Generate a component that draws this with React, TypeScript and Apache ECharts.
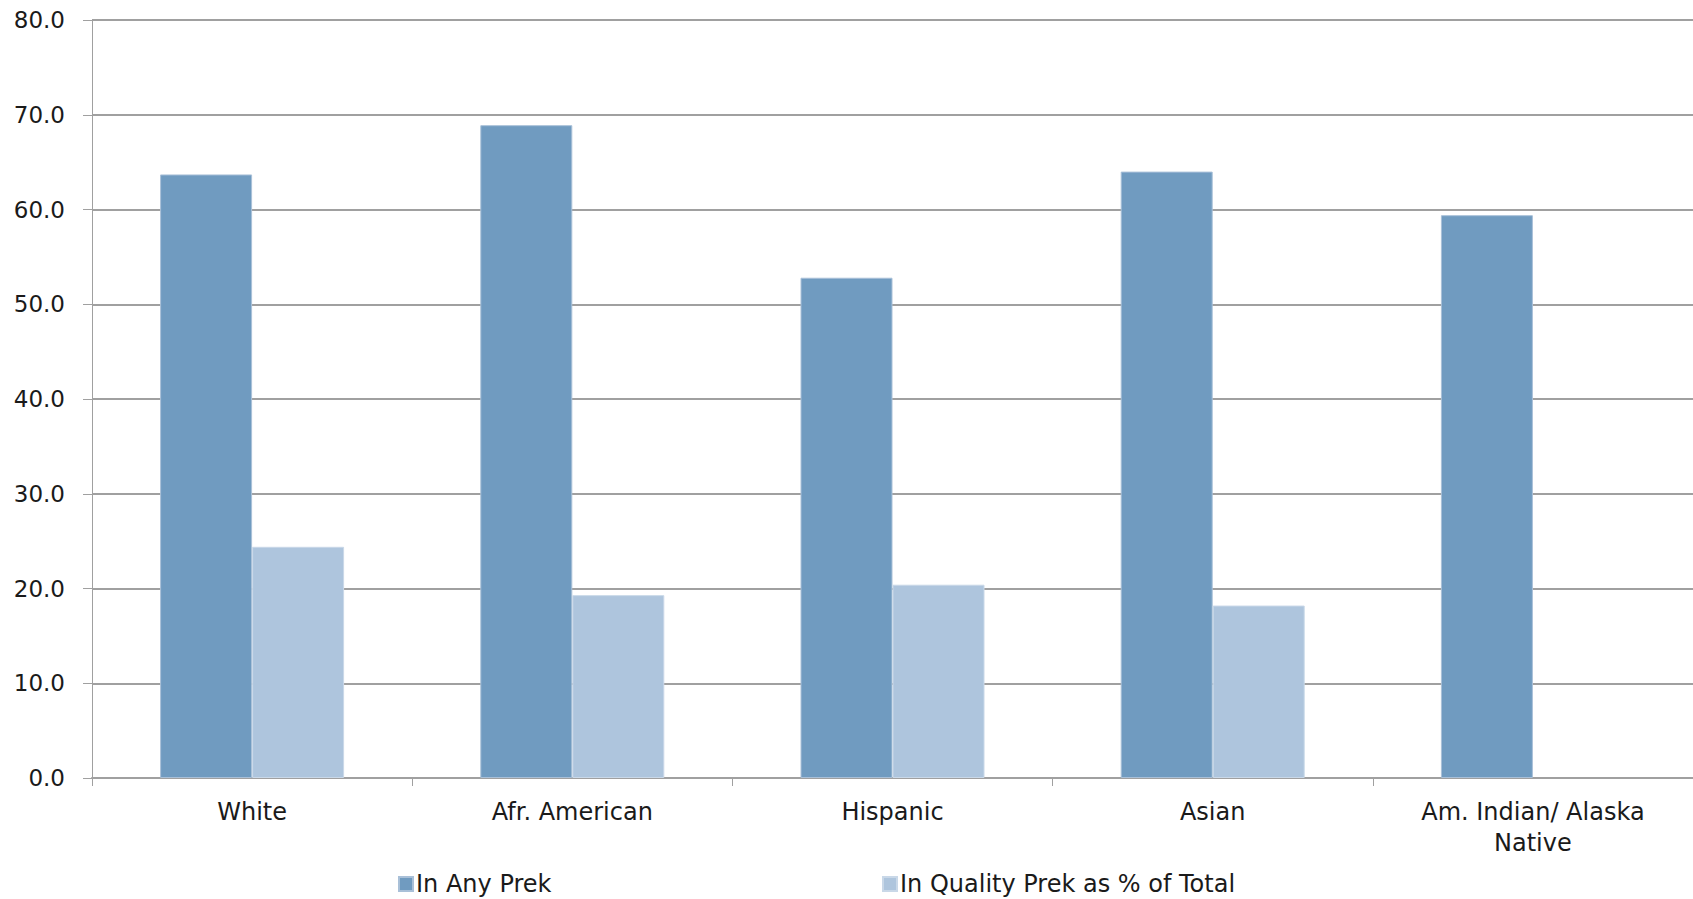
import React, { useEffect, useRef } from "react";
import * as echarts from "echarts";

const categories = ["White", "Afr. American", "Hispanic", "Asian", "Am. Indian/ Alaska\nNative"];
const anyPrek = [63.7, 68.9, 52.8, 64.0, 59.4];
const qualityPrek: (number | null)[] = [24.4, 19.3, 20.4, 18.2, null];
const seriesNames = ["In Any Prek", "In Quality Prek as % of Total"];
const yTicks = { min: 0, max: 80, interval: 10 };

const FONT = "'DejaVu Sans', sans-serif";
const DARK = "#709BC0";
const LIGHT = "#AEC5DD";
const GRID = "#A0A0A0";
const TEXT = "#1a1a1a";

export default function App() {
  const ref = useRef<HTMLDivElement>(null);
  useEffect(() => {
    if (!ref.current) return;
    const chart = echarts.init(ref.current, null, { renderer: "svg" });
    const legendText = { fontFamily: FONT, fontSize: 24, color: TEXT, lineHeight: 26, padding: [0, 0, 0, -2] };
    chart.setOption({
      animation: false,
      backgroundColor: "#ffffff",
      textStyle: { fontFamily: FONT },
      grid: { left: 92, top: 20, right: -3, bottom: 121, containLabel: false },
      legend: [
        {
          data: [seriesNames[0]],
          left: 398,
          top: 871,
          padding: 0,
          itemWidth: 14,
          itemHeight: 14,
          icon: "rect",
          textStyle: legendText,
        },
        {
          data: [seriesNames[1]],
          left: 882,
          top: 871,
          padding: 0,
          itemWidth: 14,
          itemHeight: 14,
          icon: "rect",
          textStyle: legendText,
        },
      ],
      xAxis: {
        type: "category",
        data: categories,
        axisLine: { show: true, lineStyle: { color: GRID, width: 2 } },
        axisTick: { show: true, interval: 0, alignWithLabel: false, length: 8, lineStyle: { color: GRID, width: 1 } },
        axisLabel: {
          interval: 0,
          margin: 18,
          fontFamily: FONT,
          fontSize: 24,
          color: TEXT,
          lineHeight: 31,
        },
        splitLine: { show: false },
      },
      yAxis: {
        type: "value",
        min: yTicks.min,
        max: yTicks.max,
        interval: yTicks.interval,
        axisLine: { show: true, lineStyle: { color: GRID, width: 1 } },
        axisTick: { show: true, length: 9, lineStyle: { color: GRID, width: 1 } },
        axisLabel: {
          margin: 27,
          fontFamily: FONT,
          fontSize: 23,
          color: TEXT,
          formatter: (v: number) => v.toFixed(1),
        },
        splitLine: { show: true, lineStyle: { color: GRID, width: 2 } },
      },
      series: [
        {
          name: seriesNames[0],
          type: "bar",
          data: anyPrek,
          barWidth: 92,
          barGap: "0%",
          itemStyle: { color: DARK, borderColor: "#A9C0D8", borderWidth: 1 },
        },
        {
          name: seriesNames[1],
          type: "bar",
          data: qualityPrek,
          barWidth: 92,
          barGap: "0%",
          itemStyle: { color: LIGHT, borderColor: "#C9D8E8", borderWidth: 1 },
        },
      ],
    });
    return () => chart.dispose();
  }, []);
  return (
    <div
      ref={ref}
      style={{ position: "fixed", left: 0, top: 0, width: 1693, height: 899 }}
    />
  );
}
